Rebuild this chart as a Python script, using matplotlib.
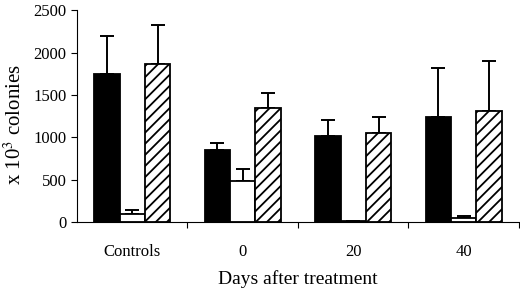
import matplotlib
matplotlib.use('Agg')
import matplotlib.pyplot as plt
import numpy as np

# data
categories = ['Controls', '0', '20', '40']
black_vals = [1750, 850, 1020, 1240]
black_err = [440, 80, 190, 580]
white_vals = [100, 490, 15, 50]
white_err = [40, 140, 0, 20]
hatch_vals = [1860, 1350, 1050, 1310]
hatch_err = [460, 175, 190, 590]

plt.rcParams['font.family'] = ['Liberation Serif', 'DejaVu Serif']
plt.rcParams['mathtext.fontset'] = 'stix'
plt.rcParams['hatch.linewidth'] = 1.3

fig = plt.figure(figsize=(5.2, 2.9), dpi=100)
ax = fig.add_axes([0.148, 0.234, 0.850, 0.731])

x = np.arange(len(categories))
w = 0.23
err_kw = dict(capsize=5, elinewidth=1.4, capthick=1.4, ecolor='black')

for off, vals, errs, face, hatch in [(-w, black_vals, black_err, 'black', None),
                                     (0, white_vals, white_err, 'white', None),
                                     (w, hatch_vals, hatch_err, 'white', '///')]:
    ax.bar(x + off, vals, w, color=face, edgecolor='black', linewidth=1.3,
           hatch=hatch, zorder=2)
    ax.errorbar(x + off, vals, yerr=[np.zeros(len(vals)), errs], fmt='none',
                zorder=1, **err_kw)

ax.set_xlim(-0.5, len(categories) - 0.5)
ax.set_ylim(0, 2500)
ax.set_yticks([0, 500, 1000, 1500, 2000, 2500])
ax.set_xticks(x)
ax.set_xticklabels(categories)
ax.set_xticks(np.arange(len(categories)) + 0.5, minor=True)
ax.tick_params(axis='x', which='major', length=0, pad=16, labelsize=12)
ax.tick_params(axis='x', which='minor', length=4, width=0.8, direction='out')
ax.tick_params(axis='y', length=4, width=0.8, direction='out', labelsize=12)

for s in ['top', 'right']:
    ax.spines[s].set_visible(False)
for s in ['left', 'bottom']:
    ax.spines[s].set_linewidth(0.8)

ax.set_ylabel(r'x 10$^3$ colonies', fontsize=15)
ax.yaxis.set_label_coords(-0.115, 0.46)
ax.set_xlabel('Days after treatment', fontsize=14, labelpad=7)

fig.savefig('out.png', dpi=100)
